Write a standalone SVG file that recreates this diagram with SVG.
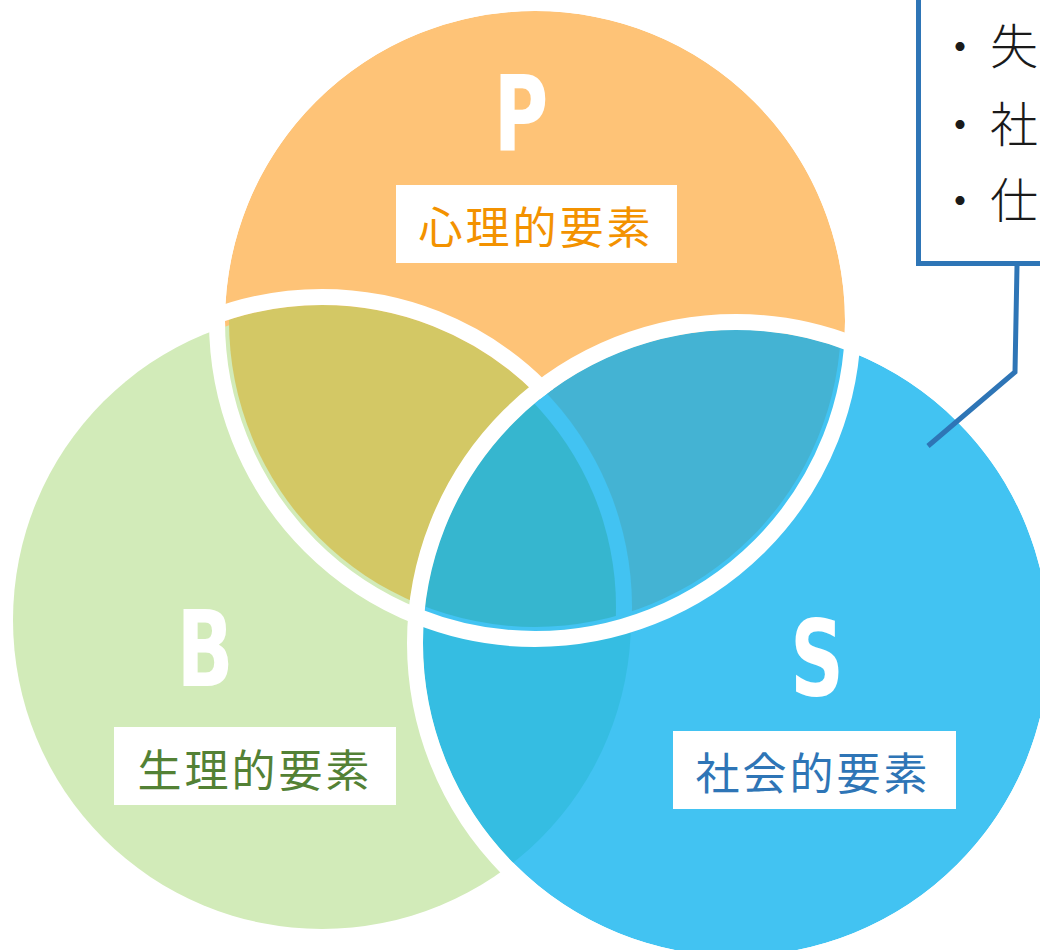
<svg xmlns="http://www.w3.org/2000/svg" width="1040" height="950" viewBox="0 0 1040 950">
  <style>
    .letter { font-family: "DejaVu Sans Condensed", "DejaVu Sans", sans-serif; font-weight: bold; font-size: 106px; fill: #ffffff; text-anchor: middle; }
    .lbl { font-family: "Noto Sans CJK JP", sans-serif; font-size: 44px; letter-spacing: 3px; text-anchor: middle; }
    .lblbox { fill: #ffffff; }
    .band { fill: none; stroke: #ffffff; stroke-width: 16; }
    .note { font-family: "Noto Sans CJK JP", sans-serif; font-weight: 300; font-size: 48px; fill: #1a1a1a; }
    .conn { fill: none; stroke: #2E75B6; stroke-width: 5; }
  </style>
  <defs>
    <clipPath id="cPin"><circle cx="535" cy="321" r="306"/></clipPath>
    <clipPath id="cP"><circle cx="535" cy="321" r="310"/></clipPath>
    <clipPath id="cPout"><circle cx="535" cy="321" r="327"/></clipPath>
    <clipPath id="cS"><circle cx="736" cy="643" r="313"/></clipPath>
    <clipPath id="cB"><circle cx="322" cy="620" r="309"/></clipPath>
    <mask id="mPS" maskUnits="userSpaceOnUse" x="0" y="0" width="1040" height="950">
      <rect x="0" y="0" width="1040" height="950" fill="#fff"/>
      <circle cx="322" cy="607" r="310" fill="#000"/>
    </mask>
    <mask id="mNoS" maskUnits="userSpaceOnUse" x="0" y="0" width="1040" height="950">
      <rect x="0" y="0" width="1040" height="950" fill="#fff"/>
      <circle cx="736" cy="643" r="313" fill="#000"/>
    </mask>
  </defs>

  <g id="venn">
    <g id="node-P">
      <circle cx="535" cy="321" r="310" fill="#FEC377"/>
    </g>
    <g id="node-B">
      <circle cx="322" cy="620" r="309" fill="#D2EBB9"/>
    </g>
    <g id="overlap-PB" clip-path="url(#cPin)">
      <circle cx="322" cy="607" r="302" fill="#D3C865"/>
    </g>
    <g id="node-S">
      <circle cx="736" cy="643" r="313" fill="#42C3F2"/>
    </g>
    <g id="overlap-BS" clip-path="url(#cS)">
      <circle cx="322" cy="620" r="309" fill="#35BDE2"/>
    </g>
    <g id="restore-S" clip-path="url(#cP)">
      <circle cx="736" cy="643" r="313" fill="#42C3F2"/>
    </g>
    <g id="overlap-PS" clip-path="url(#cPin)">
      <circle cx="736" cy="643" r="313" fill="#44B3D3" mask="url(#mPS)"/>
    </g>
    <g id="overlap-PBS" clip-path="url(#cPin)">
      <g clip-path="url(#cS)">
        <circle cx="322" cy="607" r="294" fill="#36B6CF"/>
      </g>
    </g>
    <g id="outlines">
      <g clip-path="url(#cPout)">
        <circle class="band" cx="322" cy="607" r="310" mask="url(#mNoS)"/>
      </g>
      <circle class="band" cx="535" cy="321" r="318"/>
      <circle class="band" cx="736" cy="643" r="321"/>
    </g>
  </g>

  <g id="label-P">
    <text class="letter" transform="translate(521,151) scale(0.78,1)">P</text>
    <rect class="lblbox" x="396" y="185" width="281" height="78"/>
    <text class="lbl" x="536" y="244" fill="#F39200">心理的要素</text>
  </g>
  <g id="label-B">
    <text class="letter" transform="translate(205,686) scale(0.78,1)">B</text>
    <rect class="lblbox" x="114" y="727" width="282" height="78"/>
    <text class="lbl" x="255" y="787" fill="#538135">生理的要素</text>
  </g>
  <g id="label-S">
    <text class="letter" transform="translate(817,696) scale(0.78,1)">S</text>
    <rect class="lblbox" x="673" y="731" width="283" height="78"/>
    <text class="lbl" x="813" y="790" fill="#2E75B6">社会的要素</text>
  </g>

  <g id="callout">
    <rect x="918.5" y="-10" width="200" height="273.5" fill="#ffffff" stroke="#2E75B6" stroke-width="5"/>
    <text class="note" x="936" y="64">・</text>
    <text class="note" x="990" y="64">失</text>
    <text class="note" x="936" y="142">・</text>
    <text class="note" x="990" y="142">社</text>
    <text class="note" x="936" y="218">・</text>
    <text class="note" x="990" y="218">仕</text>
  </g>

  <g id="connectors">
    <polyline class="conn" points="1017,266 1015,372 928,446"/>
  </g>
</svg>
